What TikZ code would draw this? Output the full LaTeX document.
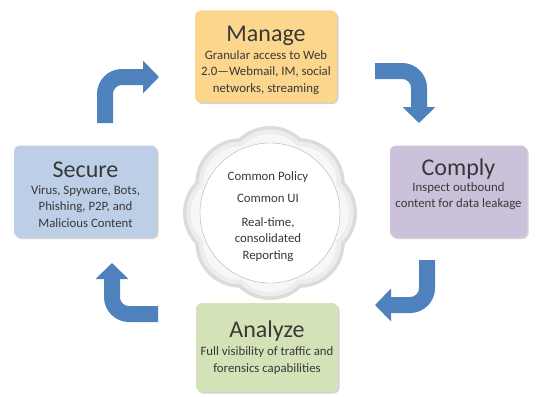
\documentclass[tikz,border=0pt]{standalone}
\usepackage{fontspec}
\setmainfont{Carlito}
\usepackage{tikz}
\usetikzlibrary{positioning,calc,shadows,arrows.meta}
\definecolor{mgold}{HTML}{FBD68C}
\definecolor{sblue}{HTML}{BCCFE6}
\definecolor{cpurple}{HTML}{CCC1DA}
\definecolor{agreen}{HTML}{D4E2B8}
\definecolor{turnblue}{HTML}{4F81BD}
\definecolor{txt}{HTML}{383838}

\begin{document}
\begin{tikzpicture}[x=1pt,y=-1pt,
    panel/.style={rounded corners=6pt, inner sep=0pt, minimum width=142pt, minimum height=92pt,
      drop shadow={shadow xshift=1.5pt,shadow yshift=-1.5pt,opacity=0.35}},
    title/.style={font=\fontsize{24}{28}\selectfont, text=txt, anchor=base, inner sep=0pt},
    body/.style={font=\fontsize{12.8}{16.5}\selectfont, text=txt, align=center, anchor=base, inner sep=0pt},
    turn/.style={draw=turnblue, line width=16pt, rounded corners=17pt, -{Triangle[length=16pt,width=32pt]}}]
        \useasboundingbox (0,0) rectangle (537,396);

        % Hub
        \coordinate (hubc) at (270,213);
        \foreach \a in {0,45,...,315}
            \fill[gray!28] ($(hubc)+(\a:42)$) circle (45);
        \foreach \a in {0,45,...,315}
            \fill[gray!14] ($(hubc)+(\a:42)$) circle (41.5);
        \foreach \a in {0,45,...,315}
            \fill[gray!6] ($(hubc)+(\a:42)$) circle (37);
        \node[circle, draw=gray!60, fill=white, minimum size=140pt, inner sep=0pt] (hub) at (hubc) {};
        \node[body] (policy) at (268,180) {Common Policy};
        \node[body] (ui) at (268,202) {Common UI};
        % base of a multi-line node is its last line
        \node[body] (report) at (268,259) {Real-time,\\consolidated\\Reporting};

        % Panels
        \node[panel, fill=mgold] (manage) at (266,56.5) {};
        \node[panel, fill=sblue, minimum width=143pt] (secure) at (85.5,191.5) {};
        \node[panel, fill=cpurple, minimum width=137pt] (comply) at (458.5,191.5) {};
        \node[panel, fill=agreen, minimum height=89pt] (analyze) at (267,347.5) {};

        \node[title] (manageT) at ($(manage.north)+(0,31)$) {Manage};
        \node[body] (manageB) at ($(manageT.base)+(0,51)$) {Granular access to Web\\2.0—Webmail, IM, social\\networks, streaming};
        \node[title] (secureT) at ($(secure.north)+(0,32)$) {Secure};
        \node[body] (secureB) at ($(secureT.base)+(0,50)$) {Virus, Spyware, Bots,\\Phishing, P2P, and\\Malicious Content};
        \node[title] (complyT) at ($(comply.north)+(0,30)$) {Comply};
        \node[body] (complyB) at ($(complyT.base)+(0,32.5)$) {Inspect outbound\\content for data leakage};
        \node[title] (analyzeT) at ($(analyze.north)+(0,35)$) {Analyze};
        \node[body] (analyzeB) at ($(analyzeT.base)+(0,34.5)$) {Full visibility of traffic and\\forensics capabilities};

        % Turn arrows
        \coordinate (tlA) at (105,123);
        \coordinate (tlB) at (105,77);
        \coordinate (tlC) at (159,77);
        \coordinate (trA) at (375,71);
        \coordinate (trB) at (419,71);
        \coordinate (trC) at (419,123);
        \coordinate (brA) at (427,260);
        \coordinate (brB) at (427,305);
        \coordinate (brC) at (375,305);
        \coordinate (blA) at (158,314);
        \coordinate (blB) at (112,314);
        \coordinate (blC) at (112,263);
        \draw[turn] (tlA) -- (tlB) -- (tlC);
        \draw[turn] (trA) -- (trB) -- (trC);
        \draw[turn] (brA) -- (brB) -- (brC);
        \draw[turn] (blA) -- (blB) -- (blC);
    \end{tikzpicture}
\end{document}
